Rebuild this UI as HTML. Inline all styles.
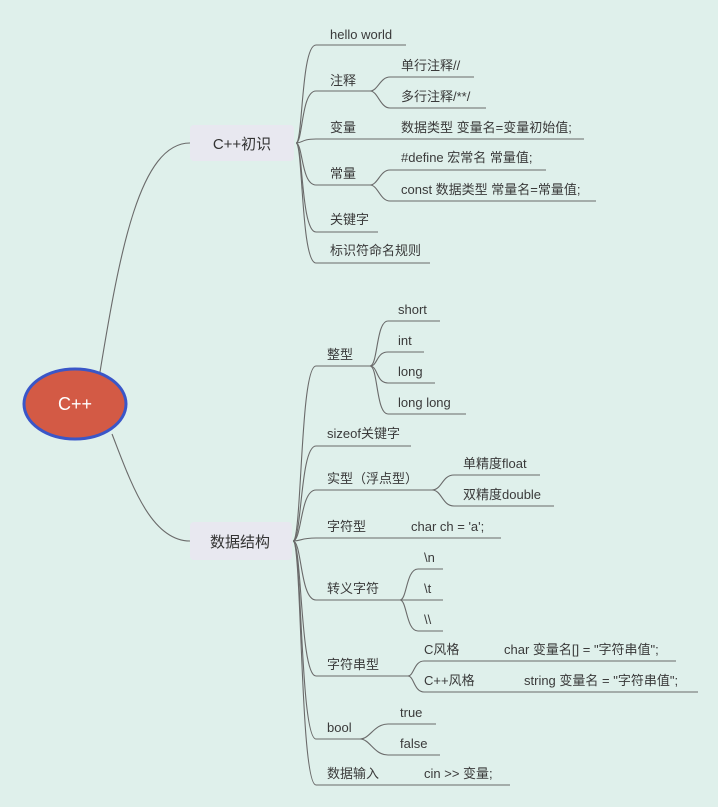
<!DOCTYPE html>
<html><head><meta charset="utf-8"><style>
html,body{margin:0;padding:0;background:#dff0eb;}
svg{display:block}
text{font-family:"Liberation Sans","Noto Sans CJK SC",sans-serif;font-size:13px;fill:#3a3a3a}
</style></head><body>
<svg width="718" height="807" viewBox="0 0 718 807" xmlns="http://www.w3.org/2000/svg">
<rect width="718" height="807" fill="#dff0eb"/>
<g fill="none" stroke="#6a6a6a" stroke-width="1.1">
<path d="M100 372 C120 250 140 143 190 143"/>
<path d="M112 434 C130 480 150 541 190 541"/>
<path d="M296 143 C303 143 301 45 316 45 L406 45"/>
<path d="M296 143 C303 143 301 91 316 91 L370 91"/>
<path d="M296 143 C303 143 301 139 316 139 L584 139"/>
<path d="M296 143 C303 143 301 185 316 185 L370 185"/>
<path d="M296 143 C303 143 301 232 316 232 L378 232"/>
<path d="M296 143 C303 143 301 263 316 263 L430 263"/>
<path d="M370 91 C378 91 380 77 390 77 L474 77"/>
<path d="M370 91 C378 91 380 108 390 108 L486 108"/>
<path d="M370 185 C378 185 380 170 390 170 L546 170"/>
<path d="M370 185 C378 185 380 201 390 201 L596 201"/>
<path d="M293 541 C302 541 300 366 316 366 L370 366"/>
<path d="M293 541 C302 541 300 446 316 446 L411 446"/>
<path d="M293 541 C302 541 300 490 316 490 L432 490"/>
<path d="M293 541 C302 541 300 538 316 538 L501 538"/>
<path d="M293 541 C302 541 300 600 316 600 L400 600"/>
<path d="M293 541 C302 541 300 676 316 676 L408 676"/>
<path d="M293 541 C302 541 300 739 316 739 L360 739"/>
<path d="M293 541 C302 541 300 785 316 785 L510 785"/>
<path d="M370 366 C378 366 376 321 388 321 L440 321"/>
<path d="M370 366 C378 366 376 352 388 352 L424 352"/>
<path d="M370 366 C378 366 376 383 388 383 L435 383"/>
<path d="M370 366 C378 366 376 414 388 414 L466 414"/>
<path d="M432 490 C442 490 442 475 454 475 L540 475"/>
<path d="M432 490 C442 490 442 506 454 506 L554 506"/>
<path d="M400 600 C407 600 406 569 418 569 L443 569"/>
<path d="M400 600 L443 600"/>
<path d="M400 600 C407 600 406 631 418 631 L443 631"/>
<path d="M408 676 C414 676 414 661 424 661 L676 661"/>
<path d="M408 676 C414 676 414 692 424 692 L698 692"/>
<path d="M360 739 C370 739 374 724 388 724 L436 724"/>
<path d="M360 739 C370 739 374 755 388 755 L440 755"/>
</g>
<ellipse cx="75" cy="404" rx="51" ry="35" fill="#d35a45" stroke="#3a56c8" stroke-width="3"/>
<text x="75" y="410" text-anchor="middle" style="font-size:18px;fill:#fff">C++</text>
<rect x="190" y="125" width="104" height="36" rx="4" fill="#e8e8f0"/>
<text x="242" y="149" text-anchor="middle" style="font-size:15px;fill:#333">C++初识</text>
<rect x="190" y="522" width="102" height="38" rx="4" fill="#e8e8f0"/>
<text x="240" y="547" text-anchor="middle" style="font-size:15px;fill:#333">数据结构</text>
<text x="330" y="39">hello world</text>
<text x="330" y="85">注释</text>
<text x="401" y="70">单行注释//</text>
<text x="401" y="101">多行注释/**/</text>
<text x="330" y="132">变量</text>
<text x="401" y="132">数据类型 变量名=变量初始值;</text>
<text x="330" y="178">常量</text>
<text x="401" y="162">#define 宏常名 常量值;</text>
<text x="401" y="194">const 数据类型 常量名=常量值;</text>
<text x="330" y="224">关键字</text>
<text x="330" y="255">标识符命名规则</text>
<text x="327" y="359">整型</text>
<text x="398" y="314">short</text>
<text x="398" y="345">int</text>
<text x="398" y="376">long</text>
<text x="398" y="407">long long</text>
<text x="327" y="438">sizeof关键字</text>
<text x="327" y="483">实型（浮点型）</text>
<text x="463" y="468">单精度float</text>
<text x="463" y="499">双精度double</text>
<text x="327" y="531">字符型</text>
<text x="411" y="531">char ch = 'a';</text>
<text x="327" y="593">转义字符</text>
<text x="424" y="562">\n</text>
<text x="424" y="593">\t</text>
<text x="424" y="624">\\</text>
<text x="327" y="669">字符串型</text>
<text x="424" y="654">C风格</text>
<text x="504" y="654">char 变量名[] = "字符串值";</text>
<text x="424" y="685">C++风格</text>
<text x="524" y="685">string 变量名 = "字符串值";</text>
<text x="327" y="732">bool</text>
<text x="400" y="717">true</text>
<text x="400" y="748">false</text>
<text x="327" y="778">数据输入</text>
<text x="424" y="778">cin &gt;&gt; 变量;</text>
</svg>
</body></html>
